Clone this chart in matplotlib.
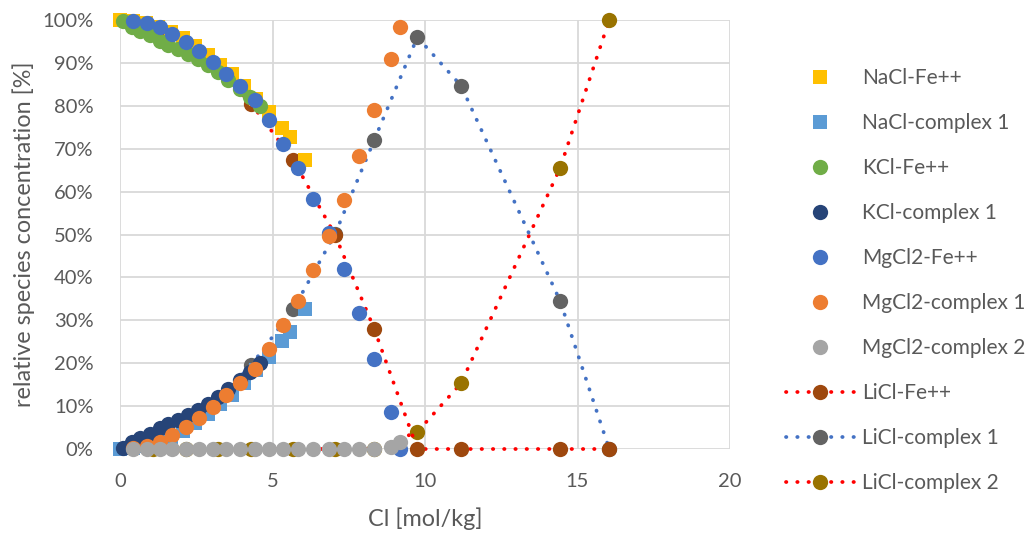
import matplotlib
matplotlib.use("Agg")
import matplotlib.pyplot as plt
from matplotlib.ticker import FuncFormatter

plt.rcParams['font.family'] = ['Lato', 'DejaVu Sans']

# ---------------- data ----------------
nacl_x = [0, 0.42, 0.84, 1.25, 1.66, 2.07, 2.47, 2.87, 3.27, 3.67, 4.07, 4.47, 4.88, 5.30, 5.57, 6.07]
nacl_fe = [100, 99.8, 99.2, 98.3, 97.2, 95.7, 93.9, 91.8, 89.6, 87.3, 84.6, 81.7, 78.5, 74.8, 72.8, 67.4]
nacl_c1 = [0, 0.2, 0.8, 1.7, 2.8, 4.3, 6.1, 8.2, 10.4, 12.7, 15.4, 18.3, 21.5, 25.2, 27.2, 32.6]

kcl_x = [0.10, 0.38, 0.66, 0.98, 1.31, 1.59, 1.91, 2.24, 2.57, 2.90, 3.22, 3.55, 3.93, 4.26, 4.59]
kcl_fe = [99.7, 98.3, 97.5, 96.4, 95.2, 94.2, 93.2, 92.1, 90.9, 89.5, 87.8, 86.1, 83.9, 82.0, 80.0]
kcl_c1 = [0.3, 1.7, 2.5, 3.6, 4.8, 5.8, 6.8, 7.9, 9.1, 10.5, 12.2, 13.9, 16.1, 18.0, 20.0]

mg_x = [0.43, 0.87, 1.30, 1.72, 2.16, 2.60, 3.05, 3.48, 3.93, 4.43, 4.89, 5.35, 5.85, 6.34, 6.84, 7.34, 7.82, 8.34, 8.87, 9.18]
mg_fe = [99.8, 99.2, 98.3, 96.8, 94.9, 92.7, 90.2, 87.5, 84.6, 81.4, 76.6, 71.2, 65.4, 58.3, 50.3, 42.0, 31.8, 21.0, 8.6, 0]
mg_c1 = [0.2, 0.8, 1.7, 3.2, 5.1, 7.3, 9.8, 12.5, 15.4, 18.6, 23.4, 28.8, 34.6, 41.7, 49.7, 58.0, 68.2, 79.0, 91.0, 98.4]
mg_c2 = [0, 0, 0, 0, 0, 0, 0, 0, 0, 0, 0, 0, 0, 0, 0, 0, 0, 0, 0.4, 1.6]

licl_x = [1.07, 2.15, 3.22, 4.30, 5.68, 7.05, 8.34, 9.75, 11.18, 14.43, 16.04]
licl_fe = [97.6, 93.6, 88.4, 80.5, 67.4, 49.9, 27.9, 0, 0, 0, 0]
licl_c1 = [2.4, 6.4, 11.6, 19.5, 32.6, 50.1, 72.1, 96.0, 84.7, 34.5, 0]
licl_c2 = [0, 0, 0, 0, 0, 0, 0, 4.0, 15.3, 65.5, 100]

x_ticks = [0, 5, 10, 15, 20]
y_ticks = [0, 10, 20, 30, 40, 50, 60, 70, 80, 90, 100]

# ---------------- figure ----------------
W, H = 1033, 533
fig = plt.figure(figsize=(W / 100, H / 100), dpi=100)
ax = fig.add_axes([120 / W, 84 / H, 610 / W, 429 / H])

MS_C = 11
MS_S = 9.8
dot = (0, (0.1, 2.9))

def scat(x, y, marker, color, ms, z):
    return ax.plot(x, y, linestyle='none', marker=marker, ms=ms, color=color,
                   mec=color, mew=0, zorder=z, clip_on=False)[0]

def liline(x, y, lcolor, mcolor, z):
    return ax.plot(x, y, color=lcolor, lw=2.7, linestyle=dot, dash_capstyle='round',
                   marker='o', ms=MS_C, mfc=mcolor, mec=mcolor, mew=0, zorder=z,
                   clip_on=False)[0]

h_li_c2 = liline(licl_x, licl_c2, '#FF0000', '#997300', 2.1)
h_li_c1 = liline(licl_x, licl_c1, '#4472C4', '#636363', 2.2)
h_li_fe = liline(licl_x, licl_fe, '#FF0000', '#9E480E', 2.3)

h_na_fe = scat(nacl_x, nacl_fe, 's', '#FFC000', MS_S, 3.0)
h_na_c1 = scat(nacl_x, nacl_c1, 's', '#5B9BD5', MS_S, 3.1)
h_k_fe = scat(kcl_x, kcl_fe, 'o', '#70AD47', MS_C, 4.0)
h_k_c1 = scat(kcl_x, kcl_c1, 'o', '#264478', MS_C, 4.1)
h_mg_fe = scat(mg_x, mg_fe, 'o', '#4472C4', MS_C, 5.0)
h_mg_c1 = scat(mg_x, mg_c1, 'o', '#ED7D31', MS_C, 5.1)
h_mg_c2 = scat(mg_x, mg_c2, 'o', '#A5A5A5', MS_C, 5.2)

ax.set_xlim(0, 20)
ax.set_ylim(0, 100)
ax.set_xticks(x_ticks)
ax.set_yticks(y_ticks)
ax.yaxis.set_major_formatter(FuncFormatter(lambda v, p: f"{int(round(v))}%"))
ax.grid(True, color='#D9D9D9', lw=1.3, zorder=0)
ax.set_axisbelow(True)
for s in ax.spines.values():
    s.set_visible(False)
ax.tick_params(axis='both', length=0, labelsize=14.5, colors='#595959')
ax.tick_params(axis='x', pad=17)
ax.tick_params(axis='y', pad=19)

ax.set_xlabel('Cl [mol/kg]', fontsize=16.8, color='#595959', labelpad=13)
ax.set_ylabel('relative species concentration [%]', fontsize=16.8, color='#595959', labelpad=5)

handles = [h_na_fe, h_na_c1, h_k_fe, h_k_c1, h_mg_fe, h_mg_c1, h_mg_c2, h_li_fe, h_li_c1, h_li_c2]
labels = ['NaCl-Fe++', 'NaCl-complex 1', 'KCl-Fe++', 'KCl-complex 1', 'MgCl2-Fe++',
          'MgCl2-complex 1', 'MgCl2-complex 2', 'LiCl-Fe++', 'LiCl-complex 1', 'LiCl-complex 2']
leg = fig.legend(handles, labels, loc='upper left', bbox_to_anchor=(786 / W, 1 - 68 / H),
                 frameon=False, fontsize=15, labelcolor='#595959', handlelength=3.25,
                 handletextpad=0.38, labelspacing=1.2, borderpad=0, borderaxespad=0,
                 numpoints=1)

fig.savefig('out.png', dpi=100)
